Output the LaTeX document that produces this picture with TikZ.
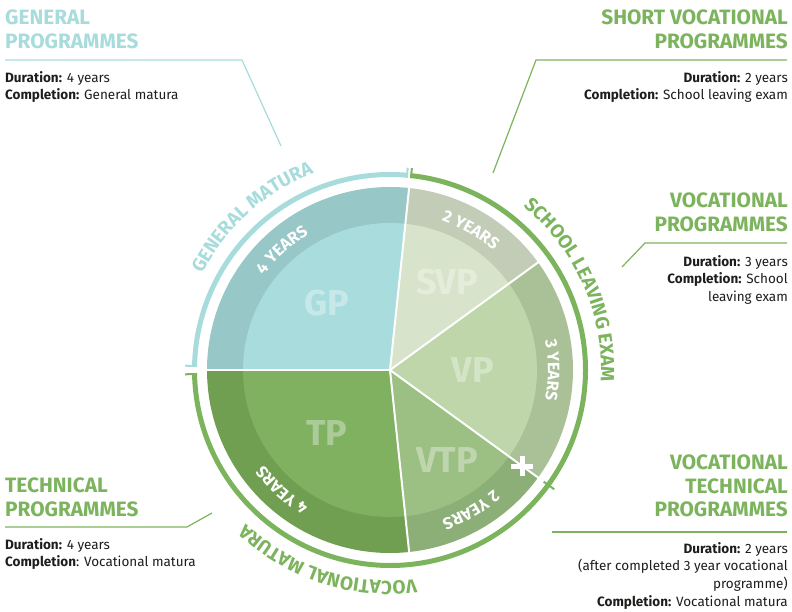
\documentclass[tikz,border=0pt]{standalone}
\usepackage{fontspec}
\setmainfont{Fira Sans}
\usetikzlibrary{decorations.text}
\definecolor{ink}{HTML}{1D1D1B}
\definecolor{gmblue}{HTML}{A8DCDC}
\definecolor{vocgreen}{HTML}{7CB35D}
\definecolor{gpfill}{HTML}{A9DCDC}
\definecolor{gpband}{HTML}{97C7C7}
\definecolor{svpfill}{HTML}{D7E3CA}
\definecolor{svpband}{HTML}{C2CCB6}
\definecolor{vpfill}{HTML}{BED6A9}
\definecolor{vpband}{HTML}{AAC198}
\definecolor{vtpfill}{HTML}{9CBF84}
\definecolor{vtpband}{HTML}{8CAE77}
\definecolor{tpfill}{HTML}{7FB161}
\definecolor{tpband}{HTML}{709F52}
\newcommand{\ringfont}{\bfseries\fontsize{19}{19}\selectfont}
\newcommand{\bandfont}{\bfseries\fontsize{16.5}{16.5}\selectfont}

\begin{document}
\begin{tikzpicture}[x=1pt, y=1pt,
    heading/.style={inner sep=0pt, text=#1, font=\bfseries\fontsize{20.8}{23.5}\selectfont},
    info/.style={inner sep=0pt, text=ink, font=\fontsize{13.5}{17.7}\selectfont},
    leader/.style={draw=#1, line width=1.2pt},
    seam/.style={draw=white, line width=2pt},
    ring/.style={draw=#1, line width=5pt},
    tick/.style={draw=#1, line width=2pt},
    short/.style={inner sep=0pt, text=white, text opacity=0.35,
                  font=\bfseries\fontsize{36}{36}\selectfont},
    ringtext/.style={decorate, decoration={text along path, text align=center, text color=#1}},
]
    \useasboundingbox (0,0) rectangle (792,611);
    \coordinate (pie) at (390,241);

    % sectors: darker outer band, lighter core
    \fill[gpband] (pie) -- ++(84:183pt) arc[start angle=84, end angle=180, radius=183pt] -- cycle;
    \fill[gpfill] (pie) -- ++(84:147pt) arc[start angle=84, end angle=180, radius=147pt] -- cycle;
    \fill[svpband] (pie) -- ++(36:183pt) arc[start angle=36, end angle=84, radius=183pt] -- cycle;
    \fill[svpfill] (pie) -- ++(36:147pt) arc[start angle=36, end angle=84, radius=147pt] -- cycle;
    \fill[vpband] (pie) -- ++(-36:183pt) arc[start angle=-36, end angle=36, radius=183pt] -- cycle;
    \fill[vpfill] (pie) -- ++(-36:147pt) arc[start angle=-36, end angle=36, radius=147pt] -- cycle;
    \fill[vtpband] (pie) -- ++(-84:183pt) arc[start angle=-84, end angle=-36, radius=183pt] -- cycle;
    \fill[vtpfill] (pie) -- ++(-84:147pt) arc[start angle=-84, end angle=-36, radius=147pt] -- cycle;
    \fill[tpband] (pie) -- ++(180:183pt) arc[start angle=180, end angle=276, radius=183pt] -- cycle;
    \fill[tpfill] (pie) -- ++(180:147pt) arc[start angle=180, end angle=276, radius=147pt] -- cycle;

    \draw[seam] (pie) -- ++(84:184pt);
    \draw[seam] (pie) -- ++(36:184pt);
    \draw[seam] (pie) -- ++(-36:184pt);
    \draw[seam] (pie) -- ++(-84:184pt);
    \draw[seam] (pie) -- ++(180:184pt);

    % plus sign where VTP follows VP
    \draw[white, line width=5pt] (511,145) -- (533,145) (522,135) -- (522,155);

    \node[short] (gpTag) at (327,308) {GP};
    \node[short] (svpTag) at (447,329) {SVP};
    \node[short] (vpTag) at (473,241) {VP};
    \node[short] (vtpTag) at (447,151) {VTP};
    \node[short] (tpTag) at (327,178) {TP};

    % years inside the bands
    \path[ringtext=white, decoration={text={|\bandfont|4 YEARS}}]
        (pie) ++(180:158pt) arc[start angle=180, end angle=84, radius=158pt];
    \path[ringtext=white, decoration={text={|\bandfont|2 YEARS}}]
        (pie) ++(84:158pt) arc[start angle=84, end angle=36, radius=158pt];
    \path[ringtext=white, decoration={text={|\bandfont|3 YEARS}}]
        (pie) ++(36:158pt) arc[start angle=36, end angle=-36, radius=158pt];
    \path[ringtext=white, decoration={text={|\bandfont|2 YEARS}}]
        (pie) ++(-36:158pt) arc[start angle=-36, end angle=-84, radius=158pt];
    \path[ringtext=white, decoration={text={|\bandfont|4 YEARS}}]
        (pie) ++(-84:158pt) arc[start angle=-84, end angle=-180, radius=158pt];

    % outer rings with end ticks
    \draw[ring=gmblue] (pie) ++(178.8:195.5pt) arc[start angle=178.8, end angle=85, radius=195.5pt];
    \draw[ring=vocgreen] (pie) ++(83.8:195.5pt) arc[start angle=83.8, end angle=-178.8, radius=195.5pt];
    \draw[tick=gmblue] (pie) ++(178.8:193pt) -- ++(178.8:12pt);
    \draw[tick=gmblue] (pie) ++(85:193pt) -- ++(85:10pt);
    \draw[tick=vocgreen] (pie) ++(83.8:193pt) -- ++(83.8:10pt);
    \draw[tick=vocgreen] (pie) ++(-178.8:193pt) -- ++(-178.8:12pt);
    \draw[tick=vocgreen] (pie) ++(-36:190pt) -- ++(-36:13pt);

    \path[ringtext=gmblue, decoration={text={|\ringfont|GENERAL MATURA}}]
        (pie) ++(178:211pt) arc[start angle=178, end angle=86, radius=211pt];
    \path[ringtext=vocgreen, decoration={text={|\ringfont|SCHOOL LEAVING EXAM}}]
        (pie) ++(83.8:211pt) arc[start angle=83.8, end angle=-36, radius=211pt];
    \path[ringtext=vocgreen, decoration={text={|\ringfont|VOCATIONAL MATURA}}]
        (pie) ++(-36:211pt) arc[start angle=-36, end angle=-180, radius=211pt];

    % programme descriptions
    \node[heading=gmblue, anchor=north west, align=left] (gpHead) at (5,601) {GENERAL\\PROGRAMMES};
    \node[info, anchor=north west, align=left] (gpInfo) at (5,540)
        {\textbf{Duration:} 4 years\\\textbf{Completion:} General matura};
    \node[heading=vocgreen, anchor=north east, align=right] (svpHead) at (788,601) {SHORT VOCATIONAL\\PROGRAMMES};
    \node[info, anchor=north east, align=right] (svpInfo) at (788,540)
        {\textbf{Duration:} 2 years\\\textbf{Completion:} School leaving exam};
    \node[heading=vocgreen, anchor=north east, align=right] (vpHead) at (788,418) {VOCATIONAL\\PROGRAMMES};
    \node[info, anchor=north east, align=right] (vpInfo) at (788,356)
        {\textbf{Duration:} 3 years\\\textbf{Completion:} School\\leaving exam};
    \node[heading=vocgreen, anchor=north east, align=right] (vtpHead) at (788,156) {VOCATIONAL\\TECHNICAL\\PROGRAMMES};
    \node[info, anchor=north east, align=right] (vtpInfo) at (788,69)
        {\textbf{Duration:} 2 years\\(after completed 3 year vocational\\programme)\\\textbf{Completion:} Vocational matura};
    \node[heading=vocgreen, anchor=north west, align=left] (tpHead) at (5,133) {TECHNICAL\\PROGRAMMES};
    \node[info, anchor=north west, align=left] (tpInfo) at (5,73)
        {\textbf{Duration:} 4 years\\\textbf{Completion}: Vocational matura};

    % leader lines
    \coordinate (gpRule) at (5,551);
    \coordinate (gpKnee) at (242,551);
    \coordinate (gpTip) at (281,465);
    \coordinate (svpRule) at (787,551);
    \coordinate (svpKnee) at (536,551);
    \coordinate (svpTip) at (493,438);
    \coordinate (vpRule) at (787,368);
    \coordinate (vpKnee) at (645,368);
    \coordinate (vpTip) at (622,344);
    \coordinate (vtpRule) at (787,79);
    \coordinate (vtpTip) at (552,79);
    \coordinate (tpRule) at (5,84);
    \coordinate (tpKnee) at (187,84);
    \coordinate (tpTip) at (212,98);
    \draw[leader=gmblue] (gpRule) -- (gpKnee) -- (gpTip);
    \draw[leader=vocgreen] (svpRule) -- (svpKnee) -- (svpTip);
    \draw[leader=vocgreen] (vpRule) -- (vpKnee) -- (vpTip);
    \draw[leader=vocgreen] (vtpRule) -- (vtpTip);
    \draw[leader=vocgreen] (tpRule) -- (tpKnee) -- (tpTip);
\end{tikzpicture}
\end{document}
